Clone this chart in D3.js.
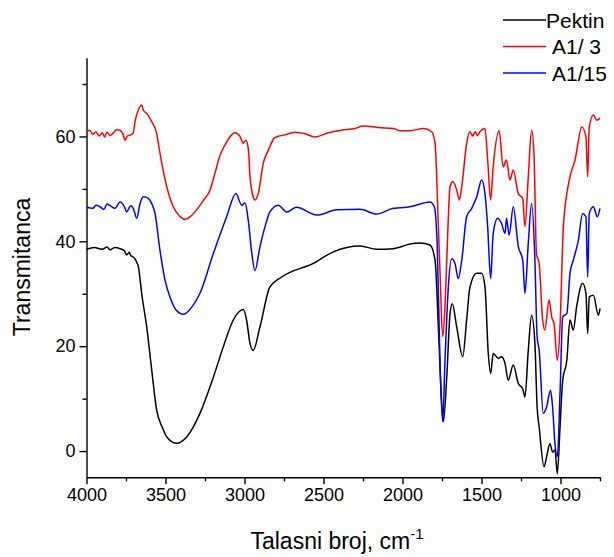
<!DOCTYPE html>
<html>
<head>
<meta charset="utf-8">
<script src="https://cdn.jsdelivr.net/npm/d3@7"></script>
<style>
  body { margin: 0; background: #fff; }
  svg { font-family: "Liberation Sans", Arial, sans-serif; }
</style>
</head>
<body>
<div class="chart"></div>
<script>
// wavenumber (cm-1), transmittance
const pektin = [[4000,38.5],[3950,38.8],[3900,38.5],[3870,38.9],[3850,38.4],[3820,38.8],[3788,38.6],[3760,38.2],[3746,37.4],[3730,37.9],[3720,37.3],[3704,37],[3685,36.2],[3671,35.1],[3651,30.1],[3619,23.7],[3587,15.4],[3556,7.8],[3520,4.5],[3492,2.7],[3429,1.5],[3366,2.7],[3282,7.2],[3197,14.1],[3134,19.9],[3071,25],[3008,27],[2987,25],[2965,20.5],[2945,19.2],[2902,23.7],[2839,31.3],[2765,33.2],[2565,35.8],[2438,38],[2269,39.1],[2163,38.5],[2058,38.6],[2015,38.9],[1953,39.5],[1889,39.7],[1826,39.3],[1794,36.4],[1773,23.7],[1752,9.1],[1741,5.6],[1720,14.1],[1699,26.2],[1685,28.1],[1657,23.7],[1619,18],[1594,25],[1573,31.3],[1530,33.9],[1499,33.9],[1478,31.3],[1457,18.6],[1442,14.8],[1426,18.6],[1394,17.7],[1373,18],[1351,16.7],[1331,13.5],[1299,16.4],[1267,12.9],[1239,11.9],[1225,10.3],[1204,19.2],[1183,25.9],[1162,20.5],[1148,8.4],[1135,4.6],[1104,-3],[1088,-1.1],[1067,1.4],[1050,-0.2],[1035,0.2],[1020,-4.3],[1003,4.6],[986,13.5],[960,17.3],[940,25],[919,23.1],[898,27.5],[860,32],[839,30.1],[828,22.4],[818,29.4],[792,29.7],[760,25.9],[750,27.2]];

const a1_3 = [[4000,60.9],[3980,61.2],[3960,60.4],[3940,60.9],[3920,60.1],[3900,60.7],[3885,59.9],[3870,60.8],[3850,60.2],[3832,60.6],[3810,61.3],[3788,61.2],[3770,60.5],[3756,59.3],[3740,60.1],[3720,60.3],[3704,60.7],[3693,62.8],[3670,65.2],[3651,66],[3640,65],[3619,64.4],[3587,62.8],[3556,60.6],[3535,56.8],[3492,50.4],[3451,46.6],[3410,44.8],[3377,44.2],[3340,44.8],[3303,46],[3260,47.8],[3218,49.8],[3187,53],[3155,56.4],[3123,58.4],[3090,60],[3060,60.7],[3028,60],[3008,58.7],[2992,59.3],[2976,57.7],[2965,52.3],[2945,48.5],[2934,47.9],[2913,49.1],[2881,54.9],[2849,57.4],[2807,59.8],[2744,60.3],[2680,60.8],[2617,60.5],[2554,59.9],[2470,60.7],[2385,61.2],[2301,61.5],[2248,62],[2150,61.7],[2058,61.5],[2015,61.1],[1953,61.1],[1868,61.5],[1815,60.9],[1794,58.7],[1773,42.8],[1760,32],[1746,21.8],[1732,27],[1720,36.4],[1699,50.4],[1682,51.4],[1657,49.8],[1640,47.9],[1625,50.4],[1594,58.7],[1573,60.9],[1555,60.1],[1540,60.9],[1525,60.2],[1510,60.9],[1478,61.5],[1461,55.5],[1442,47.9],[1426,54.2],[1388,61.1],[1363,54.2],[1342,55.5],[1320,51.7],[1299,53.6],[1267,49.1],[1239,48.2],[1225,42.8],[1204,52.3],[1183,61.2],[1168,56.8],[1152,37.7],[1135,35.8],[1113,25],[1099,23.1],[1072,28.8],[1056,25.6],[1041,24.3],[1020,17.3],[1003,23.7],[982,42.8],[940,52.3],[908,55.5],[865,61.8],[839,59.9],[828,52.3],[818,61.8],[792,64.1],[771,63.1],[750,63.5]];

const a1_15 = [[4000,46.5],[3960,46.3],[3940,46.9],[3915,46.6],[3890,46.1],[3870,47.1],[3850,46.8],[3820,46.3],[3788,47.5],[3760,46.6],[3746,45.6],[3720,46.8],[3704,46.3],[3682,44.4],[3661,47.2],[3640,48.5],[3609,48.2],[3587,47.2],[3566,45.3],[3535,38.3],[3503,32.6],[3472,29.4],[3430,26.8],[3387,26.1],[3330,27.6],[3282,30.1],[3197,37.7],[3113,44.7],[3054,49.1],[3018,46.9],[2997,47.3],[2976,44],[2955,38],[2934,34.4],[2902,39],[2870,42.8],[2839,45.6],[2786,46.9],[2733,45.6],[2670,46.5],[2543,45],[2416,46],[2269,46.1],[2163,45.2],[2058,46.3],[2015,46.4],[1953,46.6],[1826,47.5],[1799,46.6],[1780,39],[1763,17.3],[1746,5.6],[1731,17.3],[1710,31.3],[1689,36.7],[1668,35.8],[1647,32.9],[1625,36.4],[1594,44.7],[1562,46.3],[1530,48.5],[1499,51.7],[1478,49.1],[1461,42.8],[1442,32.9],[1426,41.5],[1398,44.4],[1373,43.4],[1351,41.5],[1342,44.4],[1325,41.2],[1299,46.6],[1267,39],[1239,36.4],[1225,30.1],[1204,39.6],[1183,47.2],[1162,36.4],[1148,21.8],[1135,19.2],[1109,7.2],[1088,8.4],[1063,11.6],[1050,8.4],[1035,1.4],[1020,-1.1],[1003,11],[986,25.6],[960,26.2],[940,33.9],[919,36.4],[887,40.2],[860,45.3],[839,44.7],[828,33.2],[818,45.3],[792,46.6],[767,44.7],[750,46.3]];

const seriesNames = ['Pektin', 'A1/ 3', 'A1/15'];
const seriesColors = ['#000000', '#ff0000', '#0000ff'];
const xTicks = [4000, 3500, 3000, 2500, 2000, 1500, 1000];
const xMinor = [3750, 3250, 2750, 2250, 1750, 1250, 750];
const yTicks = [0, 20, 40, 60];
const yMinor = [10, 30, 50, 70];

const width = 614;
const height = 557;

const svg = d3
  .select('.chart')
  .append('svg')
  .attr('width', width)
  .attr('height', height);

const x = d3.scaleLinear().domain([4000, 750]).range([86.5, 600]);
const y = d3.scaleLinear().domain([-5, 75]).range([477.3, 57.8]);

// minor ticks
svg
  .append('g')
  .attr('transform', 'translate(0,477.3)')
  .call(d3.axisBottom(x).tickValues(xMinor).tickSize(4).tickSizeOuter(0).tickFormat(''))
  .call((g) => g.select('.domain').remove());
svg
  .append('g')
  .attr('transform', 'translate(86.5,0)')
  .call(d3.axisLeft(y).tickValues(yMinor).tickSize(4).tickSizeOuter(0).tickFormat(''))
  .call((g) => g.select('.domain').remove());

svg
  .append('g')
  .attr('transform', 'translate(0,477.3)')
  .call(d3.axisBottom(x).tickValues(xTicks).tickFormat(d3.format('d')).tickSize(7).tickSizeOuter(0).tickPadding(4));
svg
  .append('g')
  .attr('transform', 'translate(86.5,0)')
  .call(d3.axisLeft(y).tickValues(yTicks).tickFormat(d3.format('d')).tickSize(7).tickSizeOuter(0).tickPadding(4));

svg.selectAll('.tick line, .domain').attr('stroke', '#000').attr('stroke-width', 1.4);
svg.selectAll('.tick text').attr('font-size', 18).attr('font-family', '"Liberation Sans", Arial, sans-serif').attr('fill', '#000');

const line = d3
  .line()
  .x((d) => x(d[0]))
  .y((d) => y(d[1]))
  .curve(d3.curveMonotoneX);

[pektin, a1_3, a1_15].forEach((s, i) => {
  svg
    .append('path')
    .datum(s)
    .attr('d', line)
    .attr('fill', 'none')
    .attr('stroke', seriesColors[i])
    .attr('stroke-width', 1.5)
    .attr('stroke-linejoin', 'round');
});

// axis titles
const xt = svg
  .append('text')
  .attr('x', 337)
  .attr('y', 549)
  .attr('text-anchor', 'middle')
  .attr('font-size', 23)
  .text('Talasni broj, cm');
xt.append('tspan').attr('dy', -10).attr('font-size', 15).text('-1');

svg
  .append('text')
  .attr('transform', 'translate(30,267) rotate(-90)')
  .attr('text-anchor', 'middle')
  .attr('font-size', 23)
  .text('Transmitanca');

// legend
const legend = svg.selectAll('.legend').data(seriesNames).enter().append('g');
legend
  .append('line')
  .attr('x1', 503)
  .attr('x2', 546)
  .attr('y1', (d, i) => 20 + i * 26.5)
  .attr('y2', (d, i) => 20 + i * 26.5)
  .attr('stroke', (d, i) => seriesColors[i])
  .attr('stroke-width', 1.5);
legend
  .append('text')
  .attr('x', (d, i) => (i === 0 ? 546 : 552))
  .attr('y', (d, i) => 27.5 + i * 26.5)
  .attr('font-size', 21)
  .text((d) => d);
</script>
</body>
</html>
